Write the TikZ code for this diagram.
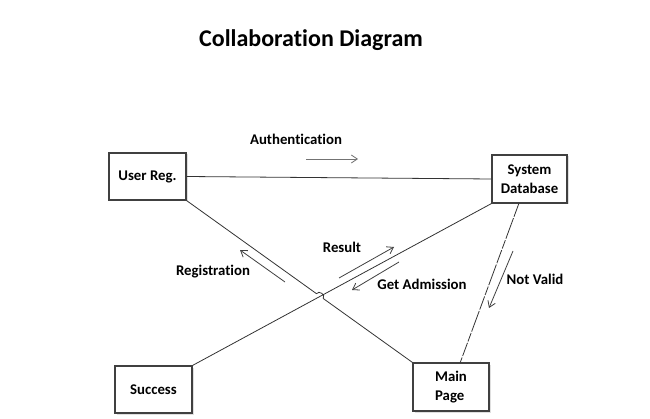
\documentclass[tikz,border=0pt]{standalone}
\usepackage{fontspec}
\setmainfont[Ligatures={NoCommon}]{Carlito}
\usetikzlibrary{arrows.meta,calc,shadows}
\begin{document}
\begin{tikzpicture}[x=1pt,y=-1pt,
  obj/.style={draw=black!75,line width=1.1pt,fill=white,inner sep=0pt,
    font=\fontsize{14.8}{18.5}\selectfont\bfseries,align=center,
    drop shadow={shadow xshift=1.5pt,shadow yshift=-1.5pt,opacity=0.25}},
  lbl/.style={font=\fontsize{14.8}{18}\selectfont\bfseries,inner sep=0pt,yshift=-1.5pt},
  link/.style={draw=black!80,line width=0.8pt},
  msg/.style={draw=black!75,line width=0.8pt,-{Straight Barb[length=6pt,width=8pt,line width=0.8pt]}},
]
\useasboundingbox (0,0) rectangle (650,419);
\node[lbl,font=\fontsize{24}{28}\selectfont\bfseries] (title) at (311,39) {Collaboration Diagram};

\node[obj,minimum width=77pt,minimum height=47pt] (ureg) at (147.5,176.5) {\raisebox{-1.5pt}{User Reg.}};
\node[obj,minimum width=75pt,minimum height=48pt] (sys) at (529.5,179) {System\\Database};
\node[obj,minimum width=77pt,minimum height=47pt] (succ) at (153.5,389.5) {\raisebox{-1.5pt}{Success}};
\node[obj,minimum width=76pt,minimum height=48pt,align=left] (main) at (451,387) {Main\\Page};

% links
\draw[link] (ureg.east) -- (sys.west);
\draw[link] (sys.south west) -- (succ.north east);
\coordinate (hA) at ($(ureg.south east)!0.575!(main.north west)$);
\coordinate (hB) at ($(ureg.south east)!0.605!(main.north west)$);
\draw[link] (ureg.south east) -- (hA)
  .. controls ($(hA)+(2.6,-3.7)$) and ($(hB)+(2.6,-3.7)$) .. (hB)
  -- (main.north west);
\draw[link,dash pattern=on 14pt off 1.5pt on 22pt off 1.5pt on 9pt off 1.5pt]
  ($(sys.south west)!0.36!(sys.south east)$) -- ($(main.north west)!0.62!(main.north east)$);

% messages
\coordinate (a1) at (306,159); \coordinate (a2) at (358,159);
\draw[msg,draw=black!55] (a1) -- (a2);
\node[lbl] (authl) at (296,138) {Authentication};

\coordinate (r1) at (285,282); \coordinate (r2) at (240,250);
\draw[msg] (r1) -- (r2);
\node[lbl] (regl) at (213,270) {Registration};

\coordinate (s1) at (339,278); \coordinate (s2) at (394,247);
\draw[msg] (s1) -- (s2);
\node[lbl] (resl) at (342,246) {Result};

\coordinate (g1) at (399,262); \coordinate (g2) at (352,290);
\draw[msg] (g1) -- (g2);
\node[lbl] (getl) at (422,283) {Get Admission};

\coordinate (n1) at (513,251); \coordinate (n2) at (489,308);
\draw[msg] (n1) -- (n2);
\node[lbl] (nvl) at (535,278) {Not Valid};
\end{tikzpicture}
\end{document}
